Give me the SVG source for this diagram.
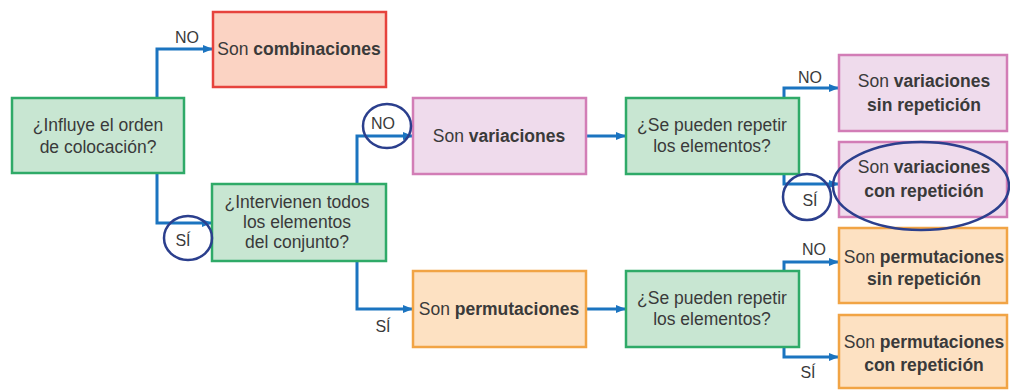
<svg xmlns="http://www.w3.org/2000/svg" width="1010" height="391" viewBox="0 0 1010 391">
<style>
text{font-family:"Liberation Sans",Arial,sans-serif;fill:#3a3a3a;text-anchor:middle}
.t{font-size:17.5px}
.b{font-weight:bold}
.lbl{font-size:16px}
.g{fill:#c8e6d2;stroke:#2faa68;stroke-width:2.5}
.r{fill:#fbd3c3;stroke:#e6433d;stroke-width:2.5}
.p{fill:#efdbec;stroke:#d27db6;stroke-width:2.5}
.o{fill:#fde1c2;stroke:#f1a445;stroke-width:2.5}
.c path{fill:none;stroke:#1b74c0;stroke-width:3;marker-end:url(#ah)}
.ring{fill:none;stroke:#2b3f8d;stroke-width:2.5}
</style>
<defs>
<marker id="ah" markerWidth="10" markerHeight="8" refX="9" refY="4" orient="auto" markerUnits="userSpaceOnUse">
<path d="M0,0 L10,4 L0,8 Z" fill="#1b74c0"/>
</marker>
</defs>
<rect width="1010" height="391" fill="#ffffff"/>
<g id="connectors" class="c">
<path d="M157,98 V49 H212"/>
<path d="M157,173 V223 H211"/>
<path d="M357,184 V136 H412"/>
<path d="M357,261 V309 H412"/>
<path d="M587,136 H625"/>
<path d="M587,309 H625"/>
<path d="M784,98 V88 H838"/>
<path d="M784,174 V184 H838"/>
<path d="M784,271 V262 H838"/>
<path d="M784,347 V357 H838"/>
</g>
<g id="labels">
<text class="lbl" x="187" y="43">NO</text>
<text class="lbl" x="183" y="246">SÍ</text>
<text class="lbl" x="383" y="129">NO</text>
<text class="lbl" x="383" y="332">SÍ</text>
<text class="lbl" x="810" y="83">NO</text>
<text class="lbl" x="810" y="206">SÍ</text>
<text class="lbl" x="814" y="255">NO</text>
<text class="lbl" x="808" y="378">SÍ</text>
</g>
<g id="n-influye">
<rect class="g" x="12" y="98" width="172" height="75"/>
<text class="t" x="98" y="131">¿Influye el orden</text>
<text class="t" x="98" y="153">de colocación?</text>
</g>
<g id="n-combinaciones">
<rect class="r" x="213" y="12" width="173" height="75"/>
<text class="t" x="299" y="55">Son <tspan class="b">combinaciones</tspan></text>
</g>
<g id="n-intervienen">
<rect class="g" x="212" y="184" width="174" height="77"/>
<text class="t" x="297" y="208">¿Intervienen todos</text>
<text class="t" x="297" y="228">los elementos</text>
<text class="t" x="297" y="248">del conjunto?</text>
</g>
<g id="n-variaciones">
<rect class="p" x="413" y="98" width="173" height="76"/>
<text class="t" x="499" y="142">Son <tspan class="b">variaciones</tspan></text>
</g>
<g id="n-permutaciones">
<rect class="o" x="413" y="271" width="173" height="76"/>
<text class="t" x="499" y="315">Son <tspan class="b">permutaciones</tspan></text>
</g>
<g id="n-repetir1">
<rect class="g" x="626" y="98" width="173" height="76"/>
<text class="t" x="712" y="131">¿Se pueden repetir</text>
<text class="t" x="712" y="152">los elementos?</text>
</g>
<g id="n-repetir2">
<rect class="g" x="626" y="271" width="173" height="76"/>
<text class="t" x="712" y="304">¿Se pueden repetir</text>
<text class="t" x="712" y="325">los elementos?</text>
</g>
<g id="n-var-sin">
<rect class="p" x="839" y="55" width="168" height="76"/>
<text class="t" x="924" y="87">Son <tspan class="b">variaciones</tspan></text>
<text class="t b" x="924" y="111">sin repetición</text>
</g>
<g id="n-var-con">
<rect class="p" x="839" y="142" width="168" height="75"/>
<text class="t" x="924" y="173">Son <tspan class="b">variaciones</tspan></text>
<text class="t b" x="924" y="197">con repetición</text>
</g>
<g id="n-perm-sin">
<rect class="o" x="839" y="228" width="168" height="75"/>
<text class="t" x="924" y="263">Son <tspan class="b">permutaciones</tspan></text>
<text class="t b" x="924" y="285">sin repetición</text>
</g>
<g id="n-perm-con">
<rect class="o" x="839" y="315" width="168" height="73"/>
<text class="t" x="924" y="348">Son <tspan class="b">permutaciones</tspan></text>
<text class="t b" x="924" y="371">con repetición</text>
</g>
<g id="annotations">
<ellipse class="ring" cx="188" cy="238" rx="24" ry="22"/>
<ellipse class="ring" cx="387" cy="126" rx="24" ry="22"/>
<ellipse class="ring" cx="807" cy="197" rx="24" ry="23"/>
<ellipse class="ring" cx="921" cy="186" rx="88" ry="44"/>
</g>
</svg>
